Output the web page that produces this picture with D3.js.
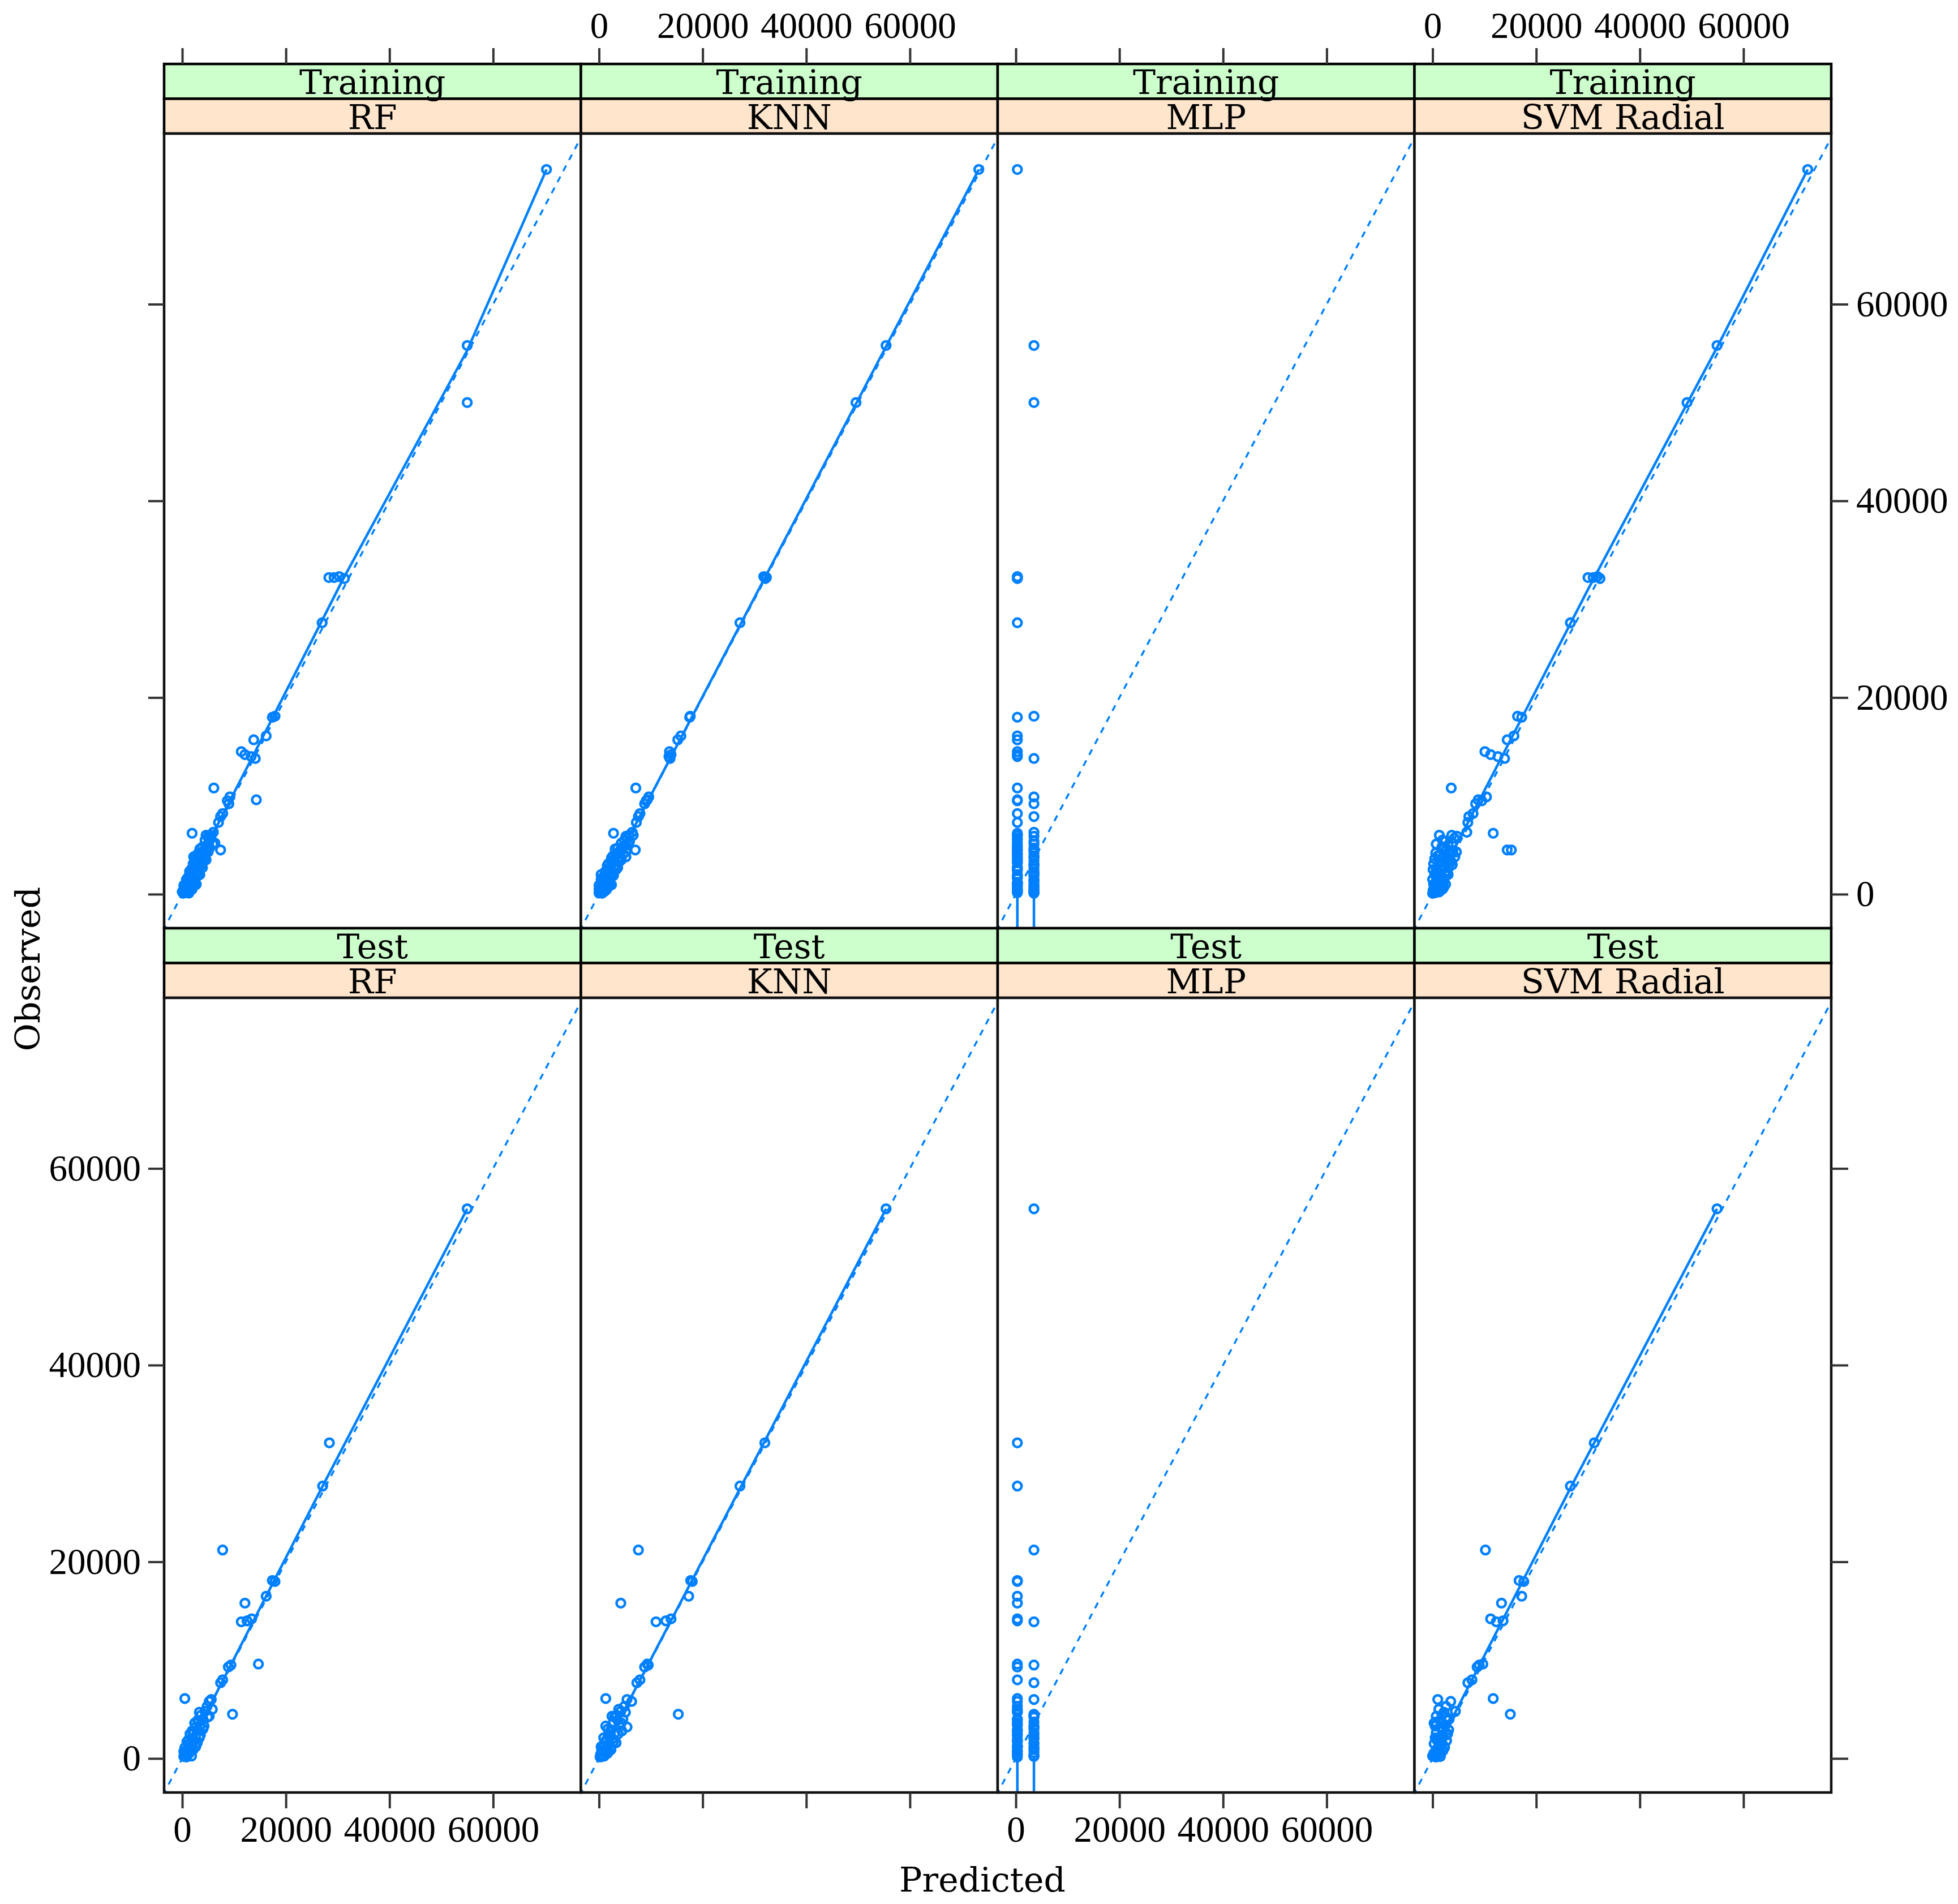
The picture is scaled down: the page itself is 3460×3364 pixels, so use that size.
<!DOCTYPE html>
<html>
<head>
<meta charset="utf-8">
<script src="https://cdn.jsdelivr.net/npm/d3@7"></script>
<style>
  body { margin: 0; background: #fff; }
  .strip { font-family: "DejaVu Serif", serif; font-size: 60px; fill: #000; }
  .title { font-family: "DejaVu Serif", serif; font-size: 60px; fill: #000; }
</style>
</head>
<body>
<svg id="chart" width="3460" height="3364"></svg>
<script>
var models = ["RF", "KNN", "MLP", "SVM Radial"];
var dataSets = ["Training", "Test"];
var axisTicks = [0, 20000, 40000, 60000];
var xDomain = [-3500, 76940];
var yDomain = [-3460, 77350];

// training set: observed, and predictions by model (same order)
var trainObs = [73700, 55800, 50000, 32200, 32200, 32300, 32100, 27600, 18000, 18100, 16100, 15700, 14500, 14200, 14000, 13800,
  10800, 9900, 9600, 9500, 9200, 8200, 7900, 7300, 6300, 6200, 6000, 6000, 5900, 5700, 5400, 5000,
  4500, 4500, 4800, 4200, 4000, 3800, 3600, 3400, 3200, 3000, 2800, 2600, 2400, 2200, 2000, 1800,
  1600, 1400, 1200, 1000, 800, 700, 500, 400, 300, 200, 150, 100,
  5200, 4700, 4300, 3900, 3500, 3100, 2700, 2300, 1900, 1500, 1100, 900, 600, 350, 250, 120,
  5500, 5100, 4600, 4400, 4100, 3700, 3300, 2900, 2500, 2100, 1700, 1300, 950, 650, 450, 200,
  3800, 2000, 1000, 500];
var trainRF = [70300, 55000, 55000, 28300, 29300, 30300, 31300, 27000, 17400, 17900, 16200, 13800, 11400, 12100, 13300, 14100,
  6100, 9200, 14300, 8700, 9000, 7800, 7400, 7000, 6000, 1900, 4600, 5600, 5100, 5500, 5200, 4800,
  7400, 4300, 3900, 3700, 4200, 3300, 3800, 2900, 3500, 2600, 3100, 2300, 2800, 1900, 2500, 1600,
  2100, 1300, 1800, 1100, 1500, 800, 1200, 600, 1000, 400, 800, 200,
  6300, 5300, 5000, 2600, 4600, 2100, 3900, 1400, 3100, 800, 2500, 300, 1900, 1500, 0, 1300,
  4400, 5900, 3400, 4700, 3000, 4300, 2400, 3600, 1700, 2900, 1100, 2200, 600, 1700, 300, 1100,
  2200, 3400, 2700, 1900];
var trainKNN = [73300, 55400, 49600, 32000, 32300, 31800, 32100, 27200, 17500, 17600, 15800, 15200, 13600, 13900, 13500, 13700,
  7100, 9600, 9300, 9100, 8800, 7900, 7600, 7200, 6400, 2800, 5800, 6600, 5200, 5400, 5900, 5100,
  7000, 4400, 4600, 3800, 3400, 4100, 3000, 3700, 2600, 3300, 2200, 2900, 1900, 2500, 1500, 2100,
  1100, 1700, 800, 1300, 500, 1000, 200, 700, 400, 100, 300, 600,
  4300, 3600, 5200, 2700, 4300, 1800, 3600, 1200, 2800, 400, 2200, 0, 1600, 1200, 900, 0,
  4900, 5600, 3100, 4000, 4700, 2400, 3900, 1600, 3300, 2700, 700, 1900, 2400, 300, 1400, 800,
  5200, 400, 1800, 0];
var trainMLP = [300, 3500, 3500, 300, 300, 300, 300, 300, 300, 3500, 300, 300, 300, 300, 300, 3500,
  300, 3500, 300, 300, 3500, 300, 3500, 300, 3500, 300, 300, 300, 3500, 300, 3500, 300,
  300, 3500, 300, 3500, 300, 3500, 300, 3500, 300, 3500, 300, 3500, 300, 3500, 300, 3500,
  300, 3500, 300, 3500, 300, 3500, 300, 3500, 300, 3500, 300, 3500,
  300, 3500, 300, 3500, 300, 3500, 300, 3500, 300, 3500, 300, 3500, 300, 3500, 300, 3500,
  300, 3500, 300, 3500, 300, 3500, 300, 3500, 300, 3500, 300, 3500, 300, 3500, 300, 3500,
  300, 3500, 300, 3500];
var trainSVM = [72400, 54900, 49100, 30000, 31000, 31800, 32300, 26600, 17200, 16400, 15700, 14400, 10100, 11200, 12600, 13900,
  3600, 10400, 8800, 9500, 8300, 7800, 7000, 6800, 6600, 11700, 1300, 3700, 4700, 4200, 2500, 3000,
  14400, 15200, 1800, 600, 3300, 2000, 400, 2900, 1200, 3800, 2300, 700, 1700, 2800, 400, 1500,
  2200, 800, 1300, 200, 1800, 600, 1000, 100, 500, 900, 300, 0,
  3800, 2200, 4600, 1000, 3400, 200, 3100, 1000, 2600, 0, 2000, 1200, 1500, 700, 1300, 200,
  1900, 700, 2700, 3900, 1500, 2500, 3600, 1800, 100, 2300, 900, 1700, 300, 2100, 1500, 400,
  4300, 3000, 2500, 1900];

// test set
var testObs = [55900, 32100, 27700, 21200, 18100, 18000, 16500, 15800, 14200, 13900,
  14000, 9600, 9500, 9300, 8000, 7700, 6100, 6000, 5800, 5300,
  4500, 4800, 4400, 4000, 3700, 3400, 3200, 2900, 2600, 2300,
  2000, 1800, 1500, 1300, 1000, 800, 600, 400, 300, 150,
  5000, 4200, 3600, 3000, 2500, 2100, 1700, 1200, 700, 250,
  4700, 4300, 3900, 3300, 2800, 2400, 1900, 1600, 1100, 900, 500, 200];
var testRF = [55000, 28400, 27100, 7800, 17400, 17900, 16200, 12100, 13400, 11400,
  12500, 14700, 9400, 8900, 7800, 7400, 500, 5600, 5200, 4800,
  9700, 4400, 3600, 4000, 3100, 3500, 2600, 3000, 2200, 2600,
  1800, 2300, 1400, 1900, 1100, 1500, 700, 1100, 400, 800,
  5800, 4900, 2400, 4000, 1500, 3300, 900, 2600, 300, 1800,
  3300, 5200, 3000, 4200, 1900, 3500, 1200, 2900, 500, 2100, 1300, 300];
var testKNN = [55400, 32000, 27200, 7600, 17700, 18000, 17300, 4200, 13900, 11000,
  12900, 9300, 9500, 8800, 7900, 7300, 1300, 5400, 6300, 4900,
  15300, 4200, 3400, 4600, 2800, 3900, 5400, 2300, 3100, 1800,
  2600, 1300, 2000, 900, 1500, 500, 1100, 300, 800, 200,
  3800, 3000, 4300, 1700, 3700, 900, 2800, 400, 1900, 1000,
  5100, 2500, 3600, 1300, 4400, 2200, 1500, 3300, 700, 2300, 1600, 600];
var testMLP = [3500, 300, 300, 3500, 300, 300, 300, 300, 300, 3500,
  300, 300, 3500, 300, 300, 3500, 300, 3500, 300, 300,
  3500, 300, 3500, 300, 3500, 300, 3500, 300, 3500, 300,
  3500, 300, 3500, 300, 3500, 300, 3500, 300, 3500, 300,
  300, 3500, 300, 3500, 300, 3500, 300, 3500, 300, 3500,
  300, 3500, 300, 3500, 300, 3500, 300, 3500, 300, 3500, 300, 3500];
var testSVM = [54900, 31200, 26600, 10200, 16700, 17600, 17200, 13300, 11200, 12300,
  13600, 9700, 9000, 8600, 7600, 6800, 11700, 1000, 3500, 2600,
  15000, 4400, 1800, 3200, 600, 2400, 1400, 3100, 700, 2000,
  1200, 2700, 300, 1600, 900, 2000, 400, 1200, 100, 600,
  1200, 2600, 300, 1800, 2900, 500, 1400, 2300, 900, 0,
  2200, 700, 2800, 500, 1900, 2700, 800, 1800, 2300, 1100, 200, 1500];

// fitted (smooth) lines per panel: list of polylines of [pred, fit]
var trainFitRF = [[[200, 300], [17500, 18000], [31000, 32000], [55000, 55300], [70300, 73700]]];
var trainFitKNN = [[[100, 100], [73300, 73700]]];
var trainFitSVM = [[[0, 300], [30000, 31000], [54900, 55600], [72400, 73700]]];
var testFitRF = [[[400, 300], [27100, 27700], [55000, 55900]]];
var testFitKNN = [[[200, 200], [55400, 55900]]];
var testFitSVM = [[[100, 300], [26600, 27500], [54900, 55900]]];
var fitMLP = [[[300, 150], [300, -6000]], [[3500, 100], [3500, -6000]]];

var obsBySet = [trainObs, testObs];
var predBySet = [[trainRF, trainKNN, trainMLP, trainSVM], [testRF, testKNN, testMLP, testSVM]];
var fitBySet = [[trainFitRF, trainFitKNN, fitMLP, trainFitSVM], [testFitRF, testFitKNN, fitMLP, testFitSVM]];

var blue = "#0080ff";
var left = 290, panelW = 736.5, top0 = 113, stripH = 61.5, panelH = 1404;
var rowH = 2 * stripH + panelH;

var svg = d3.select("#chart");

var x = d3.scaleLinear().domain(xDomain).range([0, panelW]);
var y = d3.scaleLinear().domain(yDomain).range([panelH, 0]);
var line = d3.line().x(function(d) { return x(d[0]); }).y(function(d) { return y(d[1]); });

dataSets.forEach(function(set, r) {
  var rowTop = top0 + r * rowH;
  models.forEach(function(model, c) {
    var px = left + c * panelW, py = rowTop + 2 * stripH;

    // strips: outer (data set) on top, inner (model) below
    var s = svg.append("g").attr("transform", "translate(" + px + "," + rowTop + ")");
    s.append("rect").attr("width", panelW).attr("height", stripH)
      .attr("fill", "#ccffcc").attr("stroke", "#000").attr("stroke-width", 4.5);
    s.append("rect").attr("y", stripH).attr("width", panelW).attr("height", stripH)
      .attr("fill", "#ffe5cc").attr("stroke", "#000").attr("stroke-width", 4.5);
    s.append("text").attr("class", "strip").attr("x", panelW / 2).attr("y", stripH - 8.5)
      .attr("text-anchor", "middle").text(set);
    s.append("text").attr("class", "strip").attr("x", panelW / 2).attr("y", 2 * stripH - 8)
      .attr("text-anchor", "middle").text(model);

    var p = svg.append("g").attr("transform", "translate(" + px + "," + py + ")");
    p.append("rect").attr("width", panelW).attr("height", panelH).attr("fill", "#fff");
    p.append("clipPath").attr("id", "clip" + r + c)
      .append("rect").attr("width", panelW).attr("height", panelH);
    var inner = p.append("g").attr("clip-path", "url(#clip" + r + c + ")");

    // identity line
    inner.append("path")
      .attr("d", line([[-6000, -6000], [80000, 80000]]))
      .attr("fill", "none").attr("stroke", blue).attr("stroke-width", 3.5)
      .attr("stroke-dasharray", "11,11");

    inner.selectAll(".fit")
      .data(fitBySet[r][c])
      .enter().append("path")
      .attr("class", "fit")
      .attr("d", line)
      .attr("fill", "none").attr("stroke", blue).attr("stroke-width", 4.5);

    var obs = obsBySet[r], pred = predBySet[r][c];
    inner.selectAll(".pt")
      .data(obs.map(function(o, i) { return [pred[i], o]; }))
      .enter().append("circle")
      .attr("class", "pt")
      .attr("cx", function(d) { return x(d[0]); })
      .attr("cy", function(d) { return y(d[1]); })
      .attr("r", 7.5)
      .attr("fill", "none").attr("stroke", blue).attr("stroke-width", 4.5);

    p.append("rect").attr("width", panelW).attr("height", panelH)
      .attr("fill", "none").attr("stroke", "#111").attr("stroke-width", 4.5);
  });
});

function styleAxis(g) {
  g.select(".domain").remove();
  g.attr("font-family", "'Liberation Serif', serif").attr("font-size", 65);
  g.selectAll(".tick line").attr("stroke", "#333").attr("stroke-width", 4);
  g.selectAll(".tick text").attr("fill", "#000");
}

var fmt = d3.format("d");
var bottomY = top0 + 2 * rowH;
var rightX = left + 4 * panelW;

// alternating axes, lattice style
models.forEach(function(m, c) {
  var px = left + c * panelW;
  svg.append("g").attr("transform", "translate(" + px + "," + top0 + ")")
    .call(d3.axisTop(x).tickValues(axisTicks).tickSize(28).tickPadding(18)
      .tickFormat(c % 2 === 1 ? fmt : ""))
    .call(styleAxis);
  svg.append("g").attr("transform", "translate(" + px + "," + bottomY + ")")
    .call(d3.axisBottom(x).tickValues(axisTicks).tickSize(28).tickPadding(13)
      .tickFormat(c % 2 === 0 ? fmt : ""))
    .call(styleAxis);
});

dataSets.forEach(function(s, r) {
  var py = top0 + r * rowH + 2 * stripH;
  svg.append("g").attr("transform", "translate(" + left + "," + py + ")")
    .call(d3.axisLeft(y).tickValues(axisTicks).tickSize(28).tickPadding(13)
      .tickFormat(r === 1 ? fmt : ""))
    .call(styleAxis);
  svg.append("g").attr("transform", "translate(" + rightX + "," + py + ")")
    .call(d3.axisRight(y).tickValues(axisTicks).tickSize(30).tickPadding(14)
      .tickFormat(r === 0 ? fmt : ""))
    .call(styleAxis);
});

svg.append("text").attr("class", "title")
  .attr("x", 1736).attr("y", 3342).attr("text-anchor", "middle").text("Predicted");
svg.append("text").attr("class", "title")
  .attr("transform", "translate(70,1712) rotate(-90)").attr("text-anchor", "middle").text("Observed");
</script>
</body>
</html>
